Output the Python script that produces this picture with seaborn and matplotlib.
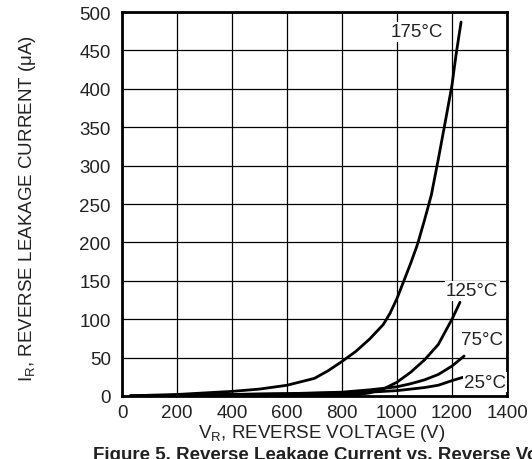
#!/usr/bin/env python3
"""Reverse leakage current vs reverse voltage, recreated with seaborn."""

import matplotlib

matplotlib.use("Agg")
import matplotlib.pyplot as plt
import pandas as pd
import seaborn as sns

# Curve data (V in volts, I in microamps)
v_175 = [30, 100, 200, 300, 400, 500, 600, 700, 750, 800, 850, 900, 950, 975, 1000, 1025,
         1050, 1075, 1100, 1125, 1150, 1175, 1200, 1215, 1233]
i_175 = [0, 1, 2, 4, 6, 9, 14, 23, 33, 45, 58, 74, 93, 108, 127, 150,
         173, 198, 229, 262, 308, 356, 405, 445, 487]

v_125 = [30, 200, 400, 600, 800, 850, 900, 950, 1000, 1050, 1100, 1150, 1200, 1229]
i_125 = [0, 0.5, 1, 1, 1, 1.5, 4, 9, 18, 31, 47, 67, 100, 122]

v_75 = [30, 200, 400, 600, 800, 900, 1000, 1050, 1100, 1150, 1200, 1244]
i_75 = [0, 1, 2, 3, 5, 8, 12, 16, 21, 28, 39, 52]

v_25 = [30, 200, 400, 600, 800, 900, 1000, 1100, 1150, 1200, 1255]
i_25 = [0, 1, 2, 3, 4, 5, 7, 11, 14, 20, 26]

curve_labels = ["175°C", "125°C", "75°C", "25°C"]
label_pos = [(1073, 474), (1273, 137), (1309, 74), (1320, 18)]

x_ticks = [0, 200, 400, 600, 800, 1000, 1200, 1400]
y_ticks = [0, 50, 100, 150, 200, 250, 300, 350, 400, 450, 500]

FS = 13.5

sns.set_theme(style="white")
plt.rcParams["font.family"] = ["Liberation Sans", "DejaVu Sans"]
plt.rcParams["mathtext.fontset"] = "custom"
plt.rcParams["mathtext.rm"] = "Liberation Sans"

fig = plt.figure(figsize=(5.32, 4.6), dpi=100)
ax = fig.add_axes([122 / 532, 63 / 460, 385 / 532, 384 / 460])

curves = [(v_175, i_175), (v_125, i_125), (v_75, i_75), (v_25, i_25)]
for v, i in curves:
    df = pd.DataFrame({"V": v, "I": i})
    sns.lineplot(data=df, x="V", y="I", color="black", linewidth=2, sort=False, ax=ax, zorder=3)

for name, (x, y) in zip(curve_labels, label_pos):
    ax.text(x, y, name, ha="center", va="center", fontsize=FS, color="#222222", zorder=4,
            bbox=dict(facecolor="white", edgecolor="none", pad=1.0))

ax.set_xlim(0, 1400)
ax.set_ylim(0, 500)
ax.set_xticks(x_ticks)
ax.set_yticks(y_ticks)
ax.tick_params(axis="both", labelsize=FS, length=0, colors="#222222")
ax.tick_params(axis="y", pad=8)
ax.tick_params(axis="x", pad=6)
ax.grid(True, color="black", linewidth=0.9)
ax.set_axisbelow(True)
for spine in ax.spines.values():
    spine.set_color("black")
    spine.set_linewidth(2)

ax.set_xlabel("V$_\\mathregular{R}$, REVERSE VOLTAGE (V)", fontsize=FS, color="#222222")
ax.set_ylabel("I$_\\mathregular{R}$, REVERSE LEAKAGE CURRENT (μA)", fontsize=FS, color="#222222")
ax.xaxis.set_label_coords(0.52, -0.068)
ax.yaxis.set_label_coords(-0.218, 0.49)

# caption runs off the right and bottom edges, as in the reference
fig.text(93 / 532, 1 - 447 / 460, "Figure 5. Reverse Leakage Current vs. Reverse Voltage",
         fontsize=FS, fontweight="bold", ha="left", va="top", color="#222222")

fig.savefig("out.png", dpi=100)
plt.close(fig)
